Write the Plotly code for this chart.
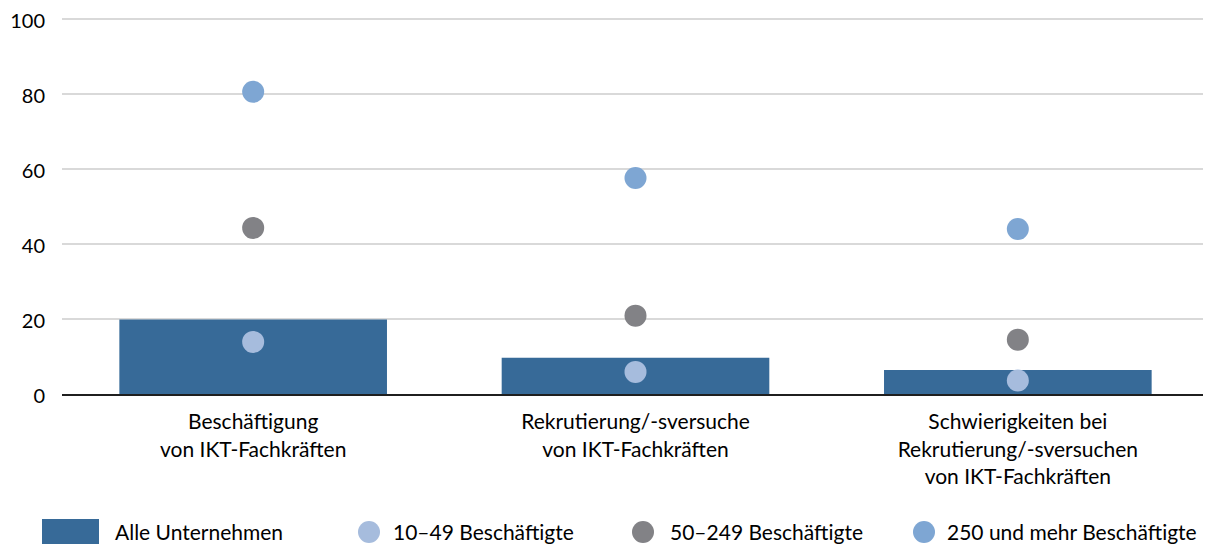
import plotly.graph_objects as go

categories = [
    "Beschäftigung<br>von IKT-Fachkräften",
    "Rekrutierung/-sversuche<br>von IKT-Fachkräften",
    "Schwierigkeiten bei<br>Rekrutierung/-sversuchen<br>von IKT-Fachkräften",
]
alle_unternehmen = [19.9, 9.7, 6.4]
b_10_49 = [13.9, 5.9, 3.6]
b_50_249 = [44.3, 20.9, 14.5]
b_250_plus = [80.6, 57.6, 44.0]

series_names = ["Alle Unternehmen", "10–49 Beschäftigte", "50–249 Beschäftigte", "250 und mehr Beschäftigte"]
y_ticks = [0, 20, 40, 60, 80, 100]

C_BAR = "#376A98"
C_SMALL = "#A6BCDD"
C_MID = "#828286"
C_BIG = "#7EA6D3"
FONT = "Lato"

# page body has an 8px margin
OX, OY = 8, 8
W, H = 1211 - OX, 544 - OY
PX_PER_UNIT = 3.75
PLOT_L, PLOT_R, PLOT_T, PLOT_B = 62, 1209, 15, 394  # target page pixels
Y_MAX = (PLOT_B - PLOT_T) / PX_PER_UNIT
L = PLOT_L - OX
R = W - (PLOT_R - OX)
T = PLOT_T - OY
B = H - (PLOT_B - OY)
PW = W - L - R
PH = H - T - B

fig = go.Figure()
fig.add_trace(go.Bar(x=categories, y=alle_unternehmen, name=series_names[0],
                     marker=dict(color=C_BAR, line=dict(width=0)), width=0.7,
                     showlegend=False))
for vals, col, nm in [(b_10_49, C_SMALL, series_names[1]),
                      (b_50_249, C_MID, series_names[2]),
                      (b_250_plus, C_BIG, series_names[3])]:
    fig.add_trace(go.Scatter(x=categories, y=vals, mode="markers", name=nm,
                             marker=dict(color=col, size=22, line=dict(width=0)),
                             showlegend=False))

def px_x(p):  # page pixel -> paper
    return (p - PLOT_L) / PW

def px_y(p):
    return (PLOT_B - p) / PH

shapes = []
annotations = []
LEG_FONT = dict(family=FONT, size=21, color="#000")
shapes.append(dict(type="rect", xref="paper", yref="paper",
                   x0=px_x(42), x1=px_x(99), y0=px_y(544), y1=px_y(519),
                   fillcolor=C_BAR, line=dict(width=0)))
annotations.append(dict(text=series_names[0], xref="paper", yref="paper",
                        x=px_x(113), y=px_y(531), xanchor="left", yanchor="middle",
                        showarrow=False, font=LEG_FONT))
for cx, tx, col, nm in [(369, 391, C_SMALL, series_names[1]),
                        (643, 668, C_MID, series_names[2]),
                        (924, 945, C_BIG, series_names[3])]:
    shapes.append(dict(type="circle", xref="paper", yref="paper",
                       x0=px_x(cx - 11), x1=px_x(cx + 11), y0=px_y(543), y1=px_y(521),
                       fillcolor=col, line=dict(width=0)))
    annotations.append(dict(text=nm, xref="paper", yref="paper",
                            x=px_x(tx), y=px_y(531), xanchor="left", yanchor="middle",
                            showarrow=False, font=LEG_FONT))

fig.update_layout(
    width=W, height=H,
    margin=dict(l=L, r=R, t=T, b=B, pad=0),
    paper_bgcolor="white", plot_bgcolor="white",
    font=dict(family=FONT, size=21, color="#000"),
    shapes=shapes, annotations=annotations,
    bargap=0.3,
)
fig.update_xaxes(showgrid=False, showline=True, linecolor="#1f1f1f", linewidth=2,
                 ticks="", range=[-0.5, 2.5], ticklabelstandoff=8, automargin=False,
                 tickfont=dict(family=FONT, size=21, color="#000"))
fig.update_yaxes(range=[0, Y_MAX], tickvals=y_ticks, showgrid=True, gridcolor="#D9D9D9",
                 gridwidth=1.5, zeroline=False, showline=False, ticks="",
                 ticklabelstandoff=16, ticklabeloverflow="allow", automargin=False,
                 ticklabelshift=2,
                 tickfont=dict(family=FONT, size=20, color="#000"))

fig.write_html("out.html")
